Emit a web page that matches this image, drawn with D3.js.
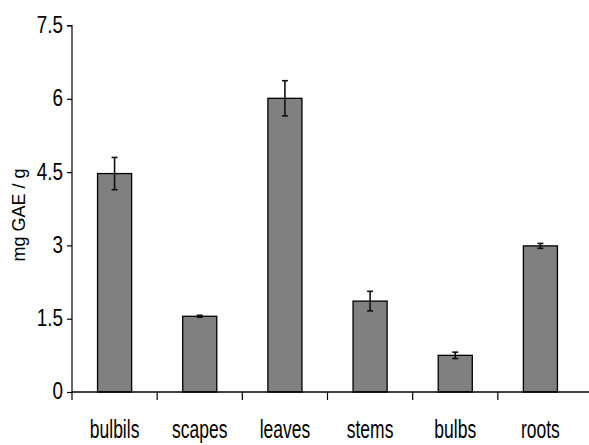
<!DOCTYPE html>
<html>
<head>
<meta charset="utf-8">
<script src="https://cdn.jsdelivr.net/npm/d3@7"></script>
<style>
  body { margin: 0; background: #fff; }
  svg { display: block; }
</style>
</head>
<body>
<svg width="589" height="445"></svg>
<script>
// Chart data
const categories = ["bulbils", "scapes", "leaves", "stems", "bulbs", "roots"];
const values = [4.47, 1.55, 6.01, 1.86, 0.75, 2.99];
const errors = [0.33, 0.02, 0.36, 0.2, 0.065, 0.05];
const yTicks = [0, 1.5, 3, 4.5, 6, 7.5];

const svg = d3.select("svg");
const fontFam = "'Liberation Sans', Arial, sans-serif";

// Plot area
const plotLeft = 72, plotRight = 583, plotTop = 25.5, plotBottom = 392;

// Scales
const x = d3.scaleBand()
  .domain(categories)
  .range([plotLeft, plotRight])
  .paddingInner(0.6)
  .paddingOuter(0.3);

const y = d3.scaleLinear()
  .domain([0, 7.5])
  .range([plotBottom, plotTop]);

// Y axis
const ySx = 0.82;
const yAxis = svg.append("g")
  .attr("transform", `translate(${plotLeft},0)`)
  .call(d3.axisLeft(y).tickValues(yTicks).tickSize(5).tickPadding(4).tickFormat(d3.format("")));
yAxis.select(".domain").attr("d", `M-5,${plotTop}H0V${plotBottom}`).attr("stroke-width", 1.2);
yAxis.selectAll(".tick line").attr("stroke-width", 1.2);
yAxis.selectAll("text")
  .attr("x", -9 / ySx)
  .attr("dy", "0.3em")
  .attr("transform", `scale(${ySx},1)`)
  .style("font-family", fontFam)
  .style("font-size", "23px")
  .attr("fill", "#000");

// Bars
svg.append("g")
  .selectAll("rect")
  .data(categories)
  .enter()
  .append("rect")
  .attr("x", d => x(d))
  .attr("y", (d, i) => y(values[i]))
  .attr("width", x.bandwidth())
  .attr("height", (d, i) => y(0) - y(values[i]))
  .attr("fill", "#808080")
  .attr("stroke", "#000")
  .attr("stroke-width", 1.3);

// Error bars
const err = svg.append("g")
  .attr("stroke", "#111")
  .attr("stroke-width", 1.6);
categories.forEach((c, i) => {
  const cx = x(c) + x.bandwidth() / 2;
  const hi = y(values[i] + errors[i]);
  const lo = y(values[i] - errors[i]);
  err.append("line").attr("x1", cx).attr("x2", cx).attr("y1", hi).attr("y2", lo);
  err.append("line").attr("x1", cx - 3).attr("x2", cx + 3).attr("y1", hi).attr("y2", hi);
  err.append("line").attr("x1", cx - 3).attr("x2", cx + 3).attr("y1", lo).attr("y2", lo);
});

// X axis with ticks between categories
const xEdges = d3.range(categories.length + 1).map(i => plotLeft + i * (plotRight - plotLeft) / categories.length);
const xAxis = svg.append("g");
xAxis.append("line")
  .attr("x1", plotLeft).attr("x2", plotRight + 6)
  .attr("y1", plotBottom).attr("y2", plotBottom)
  .attr("stroke", "#000").attr("stroke-width", 1.3);
xAxis.selectAll(".xt")
  .data(xEdges.slice(0, -1))
  .enter()
  .append("line")
  .attr("x1", d => d).attr("x2", d => d)
  .attr("y1", plotBottom).attr("y2", plotBottom + 8)
  .attr("stroke", "#000").attr("stroke-width", 1.2);

const xSx = 0.7;
xAxis.selectAll("text")
  .data(categories)
  .enter()
  .append("text")
  .attr("transform", d => `translate(${x(d) + x.bandwidth() / 2},438) scale(${xSx},1)`)
  .attr("text-anchor", "middle")
  .style("font-family", fontFam)
  .style("font-size", "25px")
  .text(d => d);

// Y axis title
svg.append("text")
  .attr("transform", "translate(25,215) rotate(-90)")
  .attr("text-anchor", "middle")
  .style("font-family", fontFam)
  .style("font-size", "18px")
  .text("mg GAE / g");
</script>
</body>
</html>
